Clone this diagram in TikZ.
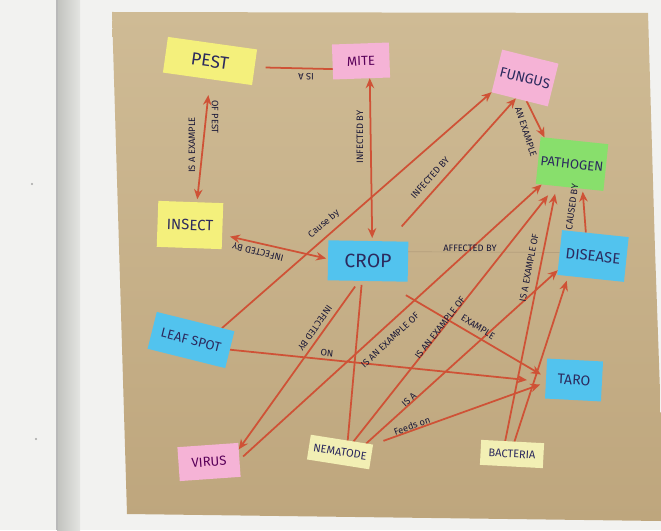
\documentclass[tikz,border=0pt]{standalone}
\usepackage{fontspec}
\newfontfamily\hand{Fira Sans}
\usetikzlibrary{arrows.meta}
\definecolor{cwall}{HTML}{F2F2F0}
\definecolor{cstrip}{HTML}{D2D3CE}
\definecolor{cpaper}{HTML}{CFBB95}
\definecolor{cpaperdk}{HTML}{BEA67D}
\definecolor{cred}{HTML}{CF5236}
\definecolor{cink}{HTML}{2C2A5E}
\definecolor{cyellow}{HTML}{F4F07C}
\definecolor{cpale}{HTML}{F2EFB4}
\definecolor{cpink}{HTML}{F5B3D6}
\definecolor{cblue}{HTML}{52C3EE}
\definecolor{cgreen}{HTML}{88DF6C}
\pgfdeclarelayer{paper}
\pgfdeclarelayer{lines}
\pgfsetlayers{paper,lines,main}
\tikzset{
  every picture/.style={line width=1pt},
  note/.style={fill=#1, inner sep=0pt, outer sep=0pt, text=cink, font=\hand},
  link/.style={draw=cred, line width=1pt},
  arrowto/.style={link, -{Stealth[length=2mm, width=1.7mm]}},
  arrowboth/.style={link, {Stealth[length=2mm, width=1.7mm]}-{Stealth[length=2mm, width=1.7mm]}},
  faint/.style={draw=cpaperdk!85!gray, line width=0.4pt},
  lbl/.style={font=\hand\fontsize{5.3}{5.3}\selectfont, text=cink!60!black, inner sep=0pt},
}

\begin{document}
\begin{tikzpicture}[x=0.02cm, y=-0.02cm]
  \useasboundingbox (0,0) rectangle (661,530);
  % wall and paper
  \begin{pgfonlayer}{paper}
    \fill[cwall] (0,0) rectangle (661,530);
    \shade[left color=cstrip!80!gray, right color=cstrip!60!white] (57,0) rectangle (80,530);
    \draw[gray!55, line width=0.6pt] (57,0) -- (57,530);
    \fill[gray!70] (32,184) circle (1.2);
    \fill[gray!70] (36,439) circle (1.2);
    \shade[top color=cpaper, bottom color=cpaperdk] (112,12) -- (648,13) -- (655,250) -- (661,420)
      -- (661,521) -- (127,514) -- cycle;
  \end{pgfonlayer}
  % sticky notes
  \node[note=cyellow, minimum width=1.8cm, minimum height=0.72cm, rotate=-8, font=\hand\fontsize{10}{10}\selectfont] (pest) at (210,61) {PEST};
  \node[note=cpink, minimum width=1.14cm, minimum height=0.7cm, rotate=2, text=violet!70!black, font=\hand\fontsize{7.5}{7.5}\selectfont] (mite) at (361,61) {MITE};
  \node[note=cpink, minimum width=1.16cm, minimum height=0.88cm, rotate=-14, font=\hand\fontsize{8}{8}\selectfont] (fungus) at (525,78) {FUNGUS};
  \node[note=cgreen, minimum width=1.36cm, minimum height=0.94cm, rotate=-6, font=\hand\fontsize{7.5}{7.5}\selectfont] (pathogen) at (572,164) {PATHOGEN};
  \node[note=cyellow, minimum width=1.3cm, minimum height=0.92cm, rotate=-2, font=\hand\fontsize{8.5}{8.5}\selectfont] (insect) at (190,225) {INSECT};
  \node[note=cblue, minimum width=1.6cm, minimum height=0.8cm, rotate=-1, font=\hand\fontsize{11}{11}\selectfont] (crop) at (368,261) {CROP};
  \node[note=cblue, minimum width=1.34cm, minimum height=0.9cm, rotate=-6, font=\hand\fontsize{8.5}{8.5}\selectfont] (disease) at (593,256) {DISEASE};
  \node[note=cblue, minimum width=1.6cm, minimum height=0.76cm, rotate=-14, font=\hand\fontsize{7.5}{7.5}\selectfont] (leafspot) at (191,340) {LEAF SPOT};
  \node[note=cblue, minimum width=1.12cm, minimum height=0.8cm, rotate=-3, font=\hand\fontsize{8}{8}\selectfont] (taro) at (574,380) {TARO};
  \node[note=cpink, minimum width=1.22cm, minimum height=0.68cm, rotate=4, text=violet!70!black, font=\hand\fontsize{7.5}{7.5}\selectfont] (virus) at (209,462) {VIRUS};
  \node[note=cpale, minimum width=1.26cm, minimum height=0.5cm, rotate=-9, font=\hand\fontsize{6.3}{6.3}\selectfont] (nematode) at (340,452) {NEMATODE};
  \node[note=cpale, minimum width=1.26cm, minimum height=0.5cm, rotate=-3, font=\hand\fontsize{6.3}{6.3}\selectfont] (bacteria) at (512,454) {BACTERIA};
  % links
  \begin{pgfonlayer}{lines}
    \draw[faint] (crop.14) -- (disease.west);
    \draw[link, shorten >=0.22cm] (mite.194) -- (pest.east);
    \draw[arrowboth, shorten <=0.06cm, shorten >=0.32cm] (insect.75) -- (pest.-82);
    \draw[arrowboth, shorten >=0.06cm] (mite.-65) -- (crop.79);
    \draw[arrowboth, shorten <=0.16cm, shorten >=0.04cm] (insect.-15) -- (crop.178);
    \draw[arrowto] (leafspot.35) -- (fungus.217);
    \draw[arrowto, shorten <=0.4cm] (crop.45) -- (fungus.260);
    \draw[arrowto] (fungus.-72) -- (pathogen.142);
    \draw[arrowto, shorten >=0.06cm] (disease.113) -- (pathogen.-61);
    \draw[arrowto, shorten >=0.38cm] (leafspot.east) -- (taro.187);
    \draw[arrowto, shorten <=0.55cm, shorten >=0.12cm] (crop.-54) -- (taro.178);
    \draw[arrowto, shorten <=0.14cm] (crop.247) -- (virus.19);
    \draw[link, shorten <=0.08cm] (crop.254) -- (nematode.65);
    \draw[arrowto, shorten <=0.1cm] (virus.east) -- (pathogen.220);
    \draw[arrowto, shorten >=0.24cm] (nematode.47) -- (pathogen.239);
    \draw[arrowto] (nematode.27) -- (disease.208);
    \draw[arrowto, shorten <=0.22cm, shorten >=0.12cm] (nematode.north east) -- (taro.188);
    \draw[arrowto, shorten >=0.16cm] (bacteria.121) -- (pathogen.241);
    \draw[arrowto, shorten >=0.1cm] (bacteria.82) -- (disease.225);
  \end{pgfonlayer}
  % link words
  \node[lbl, rotate=180] (lbisa) at (306,77) {IS A};
  \node[lbl, rotate=90] (lbexample) at (192,145) {IS A EXAMPLE};
  \node[lbl, rotate=-90] (lbofpest) at (215,117) {OF PEST};
  \node[lbl, rotate=90] (lbmite) at (360,137) {INFECTED BY};
  \node[lbl, rotate=166] (lbinsect) at (258,252) {INFECTED BY};
  \node[lbl, rotate=41] (lbcause) at (324,224) {Cause by};
  \node[lbl, rotate=48] (lbfungus) at (430,178) {INFECTED BY};
  \node[lbl, rotate=-72] (lbanex) at (526,132) {AN EXAMPLE};
  \node[lbl, rotate=82] (lbcaused) at (572,207) {CAUSED BY};
  \node[lbl] (lbaffected) at (470,248) {AFFECTED BY};
  \node[lbl, rotate=-6] (lbon) at (327,353) {ON};
  \node[lbl, rotate=-32] (lbtaro) at (478,327) {EXAMPLE};
  \node[lbl, rotate=235] (lbvirus) at (315,328) {INFECTED BY};
  \node[lbl, rotate=43] (lbvirusof) at (390,340) {IS AN EXAMPLE OF};
  \node[lbl, rotate=52] (lbnemaof) at (440,328) {IS AN EXAMPLE OF};
  \node[lbl, rotate=43] (lbnemaisa) at (409,400) {IS A};
  \node[lbl, rotate=20] (lbfeeds) at (412,426) {Feeds on};
  \node[lbl, rotate=79] (lbbact) at (529,268) {IS A EXAMPLE OF};
\end{tikzpicture}
\end{document}
